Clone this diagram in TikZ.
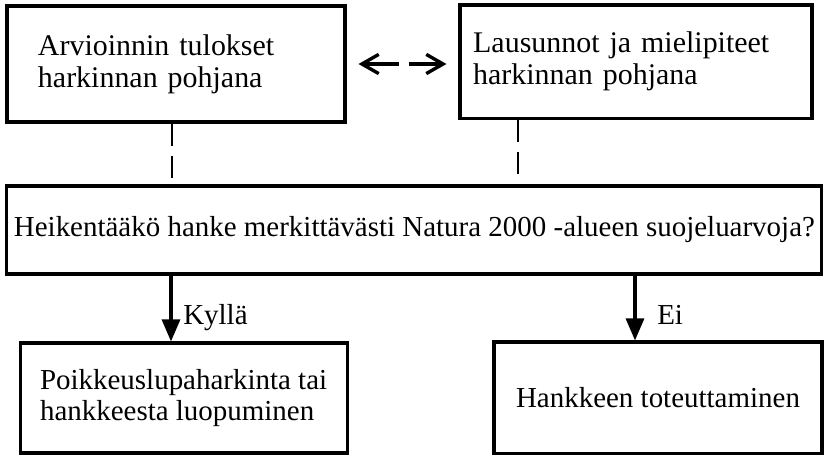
\documentclass[tikz,border=0pt]{standalone}
\usepackage{fontspec}
\setmainfont{Liberation Serif}
\usetikzlibrary{arrows.meta}

\tikzset{
  laatikko/.style={rectangle, draw, line width=2.2pt, inner sep=0pt, font=\fontsize{20.6}{22}\selectfont},
  katko/.style={line width=1.8pt, dash pattern=on 0.55cm off 0.25cm},
  nuoli/.style={line width=2.2pt, -{Triangle[length=0.55cm, width=0.45cm]}},
  kaksoisnuoli/.style={line width=2.4pt, dash pattern=on 0.875cm off 0.25cm, {Straight Barb[length=0.42cm, width=0.48cm]}-{Straight Barb[length=0.42cm, width=0.48cm]}},
  teksti/.style={font=\fontsize{20.6}{22}\selectfont, inner sep=0pt}
}

\begin{document}
\begin{tikzpicture}
\useasboundingbox (0,0) rectangle (20.6,11.4);

\node [laatikko, minimum width=8.45cm, minimum height=2.9cm, text width=6.9cm, align=left, font=\fontsize{21.3}{22.5}\selectfont] (arvio) at (4.4,9.8) {Arvioinnin tulokset\\harkinnan pohjana\\[0.2cm]};
\node [laatikko, minimum width=8.8cm, minimum height=2.83cm, text width=8.14cm, align=left, font=\fontsize{21.3}{22.5}\selectfont] (lausunto) at (15.9,9.86) {Lausunnot ja mielipiteet\\harkinnan pohjana\\[0.2cm]};

\node [laatikko, minimum width=20.375cm, minimum height=2.2cm] (kysymys) at (10.36,5.65) {Heikentääkö hanke merkittävästi Natura 2000 -alueen suojeluarvoja?};

\node [laatikko, minimum width=8.175cm, minimum height=2.75cm, align=left] (poikkeus) at (4.59,1.45) {Poikkeuslupaharkinta tai\\hankkeesta luopuminen};
\node [laatikko, minimum width=8.2cm, minimum height=2.78cm] (toteutus) at (16.45,1.46) {Hankkeen toteuttaminen};

\coordinate (vasen) at (4.275,0);
\coordinate (oikea) at (15.875,0);
\coordinate (katko1) at (4.3,0);
\coordinate (katko2) at (12.95,0);

\draw [kaksoisnuoli, shorten <=0.3cm, shorten >=0.3cm] (arvio.east) -- (arvio.east -| lausunto.west);

\draw [katko] (arvio.south -| katko1) -- (kysymys.north -| katko1);
\draw [katko] (lausunto.south -| katko2) -- (kysymys.north -| katko2);

\draw [nuoli] (kysymys.south -| vasen) -- (poikkeus.north -| vasen);
\draw [nuoli] (kysymys.south -| oikea) -- (toteutus.north -| oikea);

\node [teksti, anchor=base west] (kylla) at (4.575,3.275) {Kyllä};
\node [teksti, anchor=base west] (ei) at (16.425,3.275) {Ei};
\end{tikzpicture}
\end{document}
